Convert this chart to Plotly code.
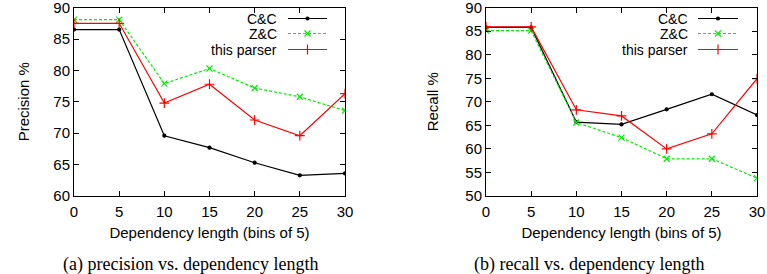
import plotly.graph_objects as go

# ---- data ----
bins = [0, 5, 10, 15, 20, 25, 30]
series_names = ["C&C", "Z&C", "this parser"]

precision_cc = [86.5, 86.5, 69.6, 67.7, 65.3, 63.3, 63.6]
precision_zc = [88.1, 88.1, 77.9, 80.3, 77.2, 75.8, 73.6]
precision_tp = [87.5, 87.5, 74.8, 77.8, 72.1, 69.6, 76.3]

recall_cc = [85.8, 85.8, 65.7, 65.2, 68.4, 71.6, 67.2]
recall_zc = [85.1, 85.1, 65.6, 62.4, 57.9, 57.9, 53.8]
recall_tp = [85.9, 85.9, 68.3, 67.0, 60.0, 63.2, 74.9]

precision_ticks = [60, 65, 70, 75, 80, 85, 90]
recall_ticks = [50, 55, 60, 65, 70, 75, 80, 85, 90]

x_title = "Dependency length (bins of 5)"
y_titles = ["Precision %", "Recall %"]
captions = ["(a) precision vs. dependency length", "(b) recall vs. dependency length"]

W, H = 767, 274
colors = ["#000000", "#00ee00", "#ff0000"]
dashes = ["solid", "3px,2px", "solid"]
symbols = ["circle", "x-thin-open", "cross-thin-open"]
msizes = [3, 6, 7]

fig = go.Figure()

panels = [
    ("x", "y", [precision_cc, precision_zc, precision_tp]),
    ("x2", "y2", [recall_cc, recall_zc, recall_tp]),
]
for xa, ya, data in panels:
    for i, vals in enumerate(data):
        fig.add_trace(go.Scatter(
            x=bins, y=vals, xaxis=xa, yaxis=ya, mode="lines+markers",
            name=series_names[i], showlegend=False,
            line=dict(color=colors[i], width=1.2, dash=dashes[i]),
            marker=dict(symbol=symbols[i], size=msizes[i], color=colors[i],
                        line=dict(color=colors[i], width=1.2)),
        ))

# ---- manual gnuplot-style legend (text left, sample right) on a pixel overlay axis ----
legend_rows = [18.5, 33.5, 49.5]
legend_panels = [(278, 288, 327), (689, 698, 738)]
annotations = []
for text_right, s0, s1 in legend_panels:
    for i, ry in enumerate(legend_rows):
        fig.add_trace(go.Scatter(
            x=[s0, s1], y=[ry, ry], xaxis="x3", yaxis="y3", mode="lines",
            showlegend=False, hoverinfo="skip",
            line=dict(color=colors[i], width=1.2, dash=dashes[i]),
        ))
        fig.add_trace(go.Scatter(
            x=[(s0 + s1) / 2], y=[ry], xaxis="x3", yaxis="y3", mode="markers",
            showlegend=False, hoverinfo="skip",
            marker=dict(symbol=symbols[i], size=msizes[i], color=colors[i],
                        line=dict(color=colors[i], width=1.2)),
        ))
        annotations.append(dict(
            x=text_right, y=ry, xref="x3", yref="y3", text=series_names[i],
            showarrow=False, xanchor="right", yanchor="middle",
            font=dict(family="Liberation Sans", size=14, color="black"),
            borderpad=0,
        ))

dom_left = [74 / W, 345 / W]
dom_right = [486 / W, 757 / W]
ydom = [1 - 196 / H, 1 - 7.5 / H]

axis_common = dict(
    showline=True, linecolor="black", linewidth=1, mirror="allticks",
    ticks="inside", ticklen=5, tickcolor="black", tickwidth=1,
    showgrid=False, zeroline=False, ticklabeloverflow="allow", automargin=False,
    tickfont=dict(family="Liberation Sans", size=15, color="black"),
)
title_font = dict(family="Liberation Sans", size=15, color="black")

fig.update_layout(
    width=W, height=H, margin=dict(l=0, r=0, t=0, b=0, autoexpand=False),
    paper_bgcolor="white", plot_bgcolor="rgba(0,0,0,0)",
    showlegend=False,
    xaxis=dict(domain=dom_left, range=[0, 30], tickvals=bins, anchor="y",
               ticklabelstandoff=2,
               title=dict(text=x_title, standoff=8, font=title_font),
               **axis_common),
    yaxis=dict(domain=ydom, range=[60, 90.02], tickvals=precision_ticks, anchor="x",
               title=dict(text=y_titles[0], standoff=20, font=title_font),
               **axis_common),
    xaxis2=dict(domain=dom_right, range=[0, 30], tickvals=bins, anchor="y2",
                ticklabelstandoff=2,
                title=dict(text=x_title, standoff=8, font=title_font),
                **axis_common),
    yaxis2=dict(domain=ydom, range=[50, 90.02], tickvals=recall_ticks, anchor="x2",
                title=dict(text=y_titles[1], standoff=23, font=title_font),
                **axis_common),
    xaxis3=dict(domain=[0, 1], range=[0, W], visible=False, anchor="y3", fixedrange=True),
    yaxis3=dict(domain=[0, 1], range=[H, 0], visible=False, anchor="x3", fixedrange=True),
)

caption_centers = [190, 589]
for k, cap in enumerate(captions):
    annotations.append(dict(
        x=caption_centers[k], y=264, xref="x3", yref="y3",
        text=cap, showarrow=False, xanchor="center", yanchor="middle",
        font=dict(family="Liberation Serif", size=18, color="black"),
        borderpad=0,
    ))

fig.update_layout(annotations=annotations)
fig.write_html("out.html")
